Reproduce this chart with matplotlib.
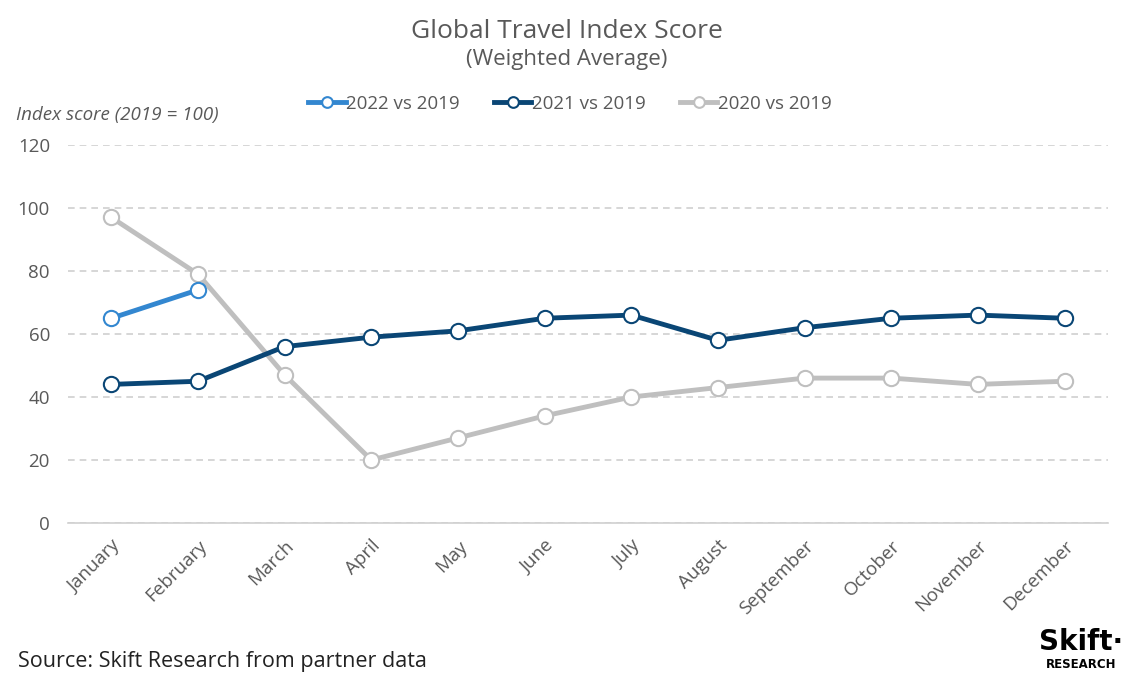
import matplotlib.pyplot as plt

months = ["January", "February", "March", "April", "May", "June", "July",
          "August", "September", "October", "November", "December"]
idx_2022 = [65, 74]
idx_2021 = [44, 45, 56, 59, 61, 65, 66, 58, 62, 65, 66, 65]
idx_2020 = [97, 79, 47, 20, 27, 34, 40, 43, 46, 46, 44, 45]

plt.rcParams['font.family'] = ['Open Sans', 'DejaVu Sans']
txt = "#595959"

fig = plt.figure(figsize=(11.31, 6.87), dpi=100)
ax = fig.add_axes([68 / 1131, 1 - 523 / 687, 1040 / 1131, 378 / 687])

x = list(range(len(months)))
mk = dict(marker="o", markersize=11, markerfacecolor="white", markeredgewidth=1.5, zorder=3)
ax.plot(x, idx_2020, color="#bfbfbf", lw=3.5, markeredgecolor="#bfbfbf", label="2020 vs 2019", **mk)
ax.plot(x, idx_2021, color="#0a4675", lw=3.5, markeredgecolor="#0a4675", label="2021 vs 2019", **mk)
ax.plot(x[:2], idx_2022, color="#3387d0", lw=3.5, markeredgecolor="#3387d0", label="2022 vs 2019", **mk)

ax.set_xlim(-0.5, 11.5)
ax.set_ylim(0, 120)
ax.set_yticks(range(0, 121, 20))
ax.set_xticks(x)
ax.set_xticklabels(months, rotation=45, ha="right", rotation_mode="anchor")
ax.tick_params(length=0, labelsize=13.5, colors=txt)
ax.tick_params(axis="y", pad=13)
ax.tick_params(axis="x", pad=10)
ax.grid(axis="y", ls=(0, (4, 3)), color="#d0d0d0", lw=1.2)
for s in ["top", "right", "left"]:
    ax.spines[s].set_visible(False)
ax.spines["bottom"].set_color("#d0d0d0")
ax.spines["bottom"].set_linewidth(1.2)

h, l = ax.get_legend_handles_labels()
fig.legend(h[::-1], l[::-1], loc="center", bbox_to_anchor=(570 / 1131, 1 - 104 / 687),
           ncol=3, frameon=False, fontsize=13.5, labelcolor=txt, handlelength=2.0,
           handletextpad=0.05, columnspacing=1.8, markerscale=0.7)

fig.text(567 / 1131, 1 - 32 / 687, "Global Travel Index Score", ha="center", va="center",
         fontsize=19, color=txt)
fig.text(567 / 1131, 1 - 60 / 687, "(Weighted Average)", ha="center", va="center",
         fontsize=16, color=txt)
fig.text(16 / 1131, 1 - 115 / 687, "Index score (2019 = 100)", ha="left", va="center",
         fontsize=13.5, style="italic", color=txt)
fig.text(18 / 1131, 1 - 662 / 687, "Source: Skift Research from partner data", ha="left",
         va="center", fontsize=15.5, color="#222222")
fig.text(1081 / 1131, 1 - 642 / 687, "Skift·", ha="center", va="center", fontsize=20,
         weight="heavy", color="black", family=["DejaVu Sans"])
fig.text(1081 / 1131, 1 - 665 / 687, "RESEARCH", ha="center", va="center", fontsize=8.5,
         weight="bold", color="black", family=["DejaVu Sans"])

fig.savefig("out.png", dpi=100)
